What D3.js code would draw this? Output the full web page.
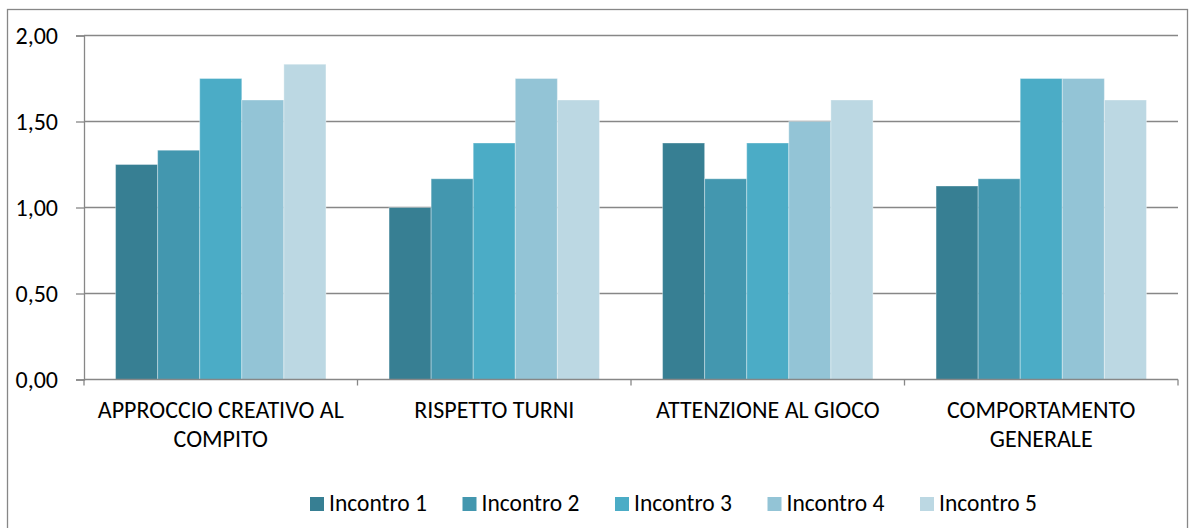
<!DOCTYPE html>
<html>
<head>
<meta charset="utf-8">
<script src="https://cdn.jsdelivr.net/npm/d3@7"></script>
<style>
  body { margin: 0; background: #fff; }
  svg text { font-family: Carlito, Calibri, Lato, "Open Sans", sans-serif; fill: #000; }
</style>
</head>
<body>
<svg id="chart" width="1189" height="528"></svg>
<script>
// data
const categories = ["APPROCCIO CREATIVO AL COMPITO", "RISPETTO TURNI", "ATTENZIONE AL GIOCO", "COMPORTAMENTO GENERALE"];
const categoryLines = [["APPROCCIO CREATIVO AL", "COMPITO"], ["RISPETTO TURNI"], ["ATTENZIONE AL GIOCO"], ["COMPORTAMENTO", "GENERALE"]];
const seriesNames = ["Incontro 1", "Incontro 2", "Incontro 3", "Incontro 4", "Incontro 5"];
const incontro1 = [1.25, 1.00, 1.375, 1.125];
const incontro2 = [1.333, 1.167, 1.167, 1.167];
const incontro3 = [1.75, 1.375, 1.375, 1.75];
const incontro4 = [1.625, 1.75, 1.5, 1.75];
const incontro5 = [1.833, 1.625, 1.625, 1.625];
const yTicks = [0, 0.5, 1, 1.5, 2];

const seriesValues = [incontro1, incontro2, incontro3, incontro4, incontro5];
const colors = ["#377f93", "#4397af", "#4bacc6", "#93c4d6", "#bcd8e3"];

const svg = d3.select("#chart");
const margin = { top: 35.5, right: 11, bottom: 148.5, left: 84 };
const width = 1189 - margin.left - margin.right;
const height = 528 - margin.top - margin.bottom;

// outer frame
svg.append("rect")
  .attr("x", 7.5).attr("y", 9.5)
  .attr("width", 1180).attr("height", 530)
  .attr("fill", "none")
  .attr("stroke", "#878787")
  .attr("stroke-width", 1.3);

const g = svg.append("g")
  .attr("transform", `translate(${margin.left},${margin.top})`);

const x0 = d3.scaleBand().domain(categories).range([0, width]).paddingInner(0).paddingOuter(0);
const x1 = d3.scaleBand().domain(seriesNames)
  .range([x0.bandwidth() * 0.1154, x0.bandwidth() * (1 - 0.1154)]).padding(0);
const y = d3.scaleLinear().domain([0, 2]).range([height, 0]);

// gridlines
g.selectAll("line.grid").data(yTicks.filter(d => d > 0))
  .join("line")
  .attr("class", "grid")
  .attr("x1", 0).attr("x2", width)
  .attr("y1", d => y(d)).attr("y2", d => y(d))
  .attr("stroke", "#878787")
  .attr("stroke-width", 1.3);

// bars
const groups = g.selectAll("g.cat").data(categories)
  .join("g")
  .attr("class", "cat")
  .attr("transform", d => `translate(${x0(d)},0)`);

groups.selectAll("rect")
  .data((c, ci) => seriesNames.map((s, si) => ({ s: s, v: seriesValues[si][ci], i: si })))
  .join("rect")
  .attr("x", d => x1(d.s))
  .attr("y", d => y(d.v))
  .attr("width", x1.bandwidth())
  .attr("height", d => y(0) - y(d.v))
  .attr("fill", d => colors[d.i])
  .attr("stroke", "rgba(255,255,255,0.35)")
  .attr("stroke-width", 1);

// y axis
const yAxis = d3.axisLeft(y).tickValues(yTicks).tickSize(8).tickPadding(18)
  .tickFormat(d => d3.format(".2f")(d).replace(".", ","));
const ya = g.append("g").call(yAxis);
ya.select(".domain").attr("stroke", "#878787").attr("stroke-width", 1.3);
ya.selectAll(".tick line").attr("stroke", "#878787").attr("stroke-width", 1.3);
ya.selectAll(".tick text").attr("font-size", 24).attr("font-family", null);

// x axis line and ticks
const xa = g.append("g").attr("transform", `translate(0,${height})`);
xa.append("line")
  .attr("x1", 0).attr("x2", width)
  .attr("stroke", "#878787").attr("stroke-width", 1.3);
xa.selectAll("line.tk").data(d3.range(categories.length + 1))
  .join("line")
  .attr("class", "tk")
  .attr("x1", i => i * x0.step()).attr("x2", i => i * x0.step())
  .attr("y1", 0).attr("y2", 6)
  .attr("stroke", "#878787").attr("stroke-width", 1.3);

// category labels
categories.forEach((c, ci) => {
  const t = xa.append("text")
    .attr("text-anchor", "middle")
    .attr("font-size", 24)
    .attr("x", x0(c) + x0.bandwidth() / 2);
  categoryLines[ci].forEach((line, li) => {
    t.append("tspan")
      .attr("x", x0(c) + x0.bandwidth() / 2)
      .attr("y", 38 + li * 29)
      .text(line);
  });
});

// legend
const legend = svg.append("g").attr("transform", "translate(310,497)");
const item = legend.selectAll("g").data(seriesNames)
  .join("g")
  .attr("transform", (d, i) => `translate(${i * 152.5},0)`);
item.append("rect")
  .attr("width", 14).attr("height", 14)
  .attr("fill", (d, i) => colors[i]);
item.append("text")
  .attr("x", 19).attr("y", 13.5)
  .attr("font-size", 23.5)
  .text(d => d);
</script>
</body>
</html>
